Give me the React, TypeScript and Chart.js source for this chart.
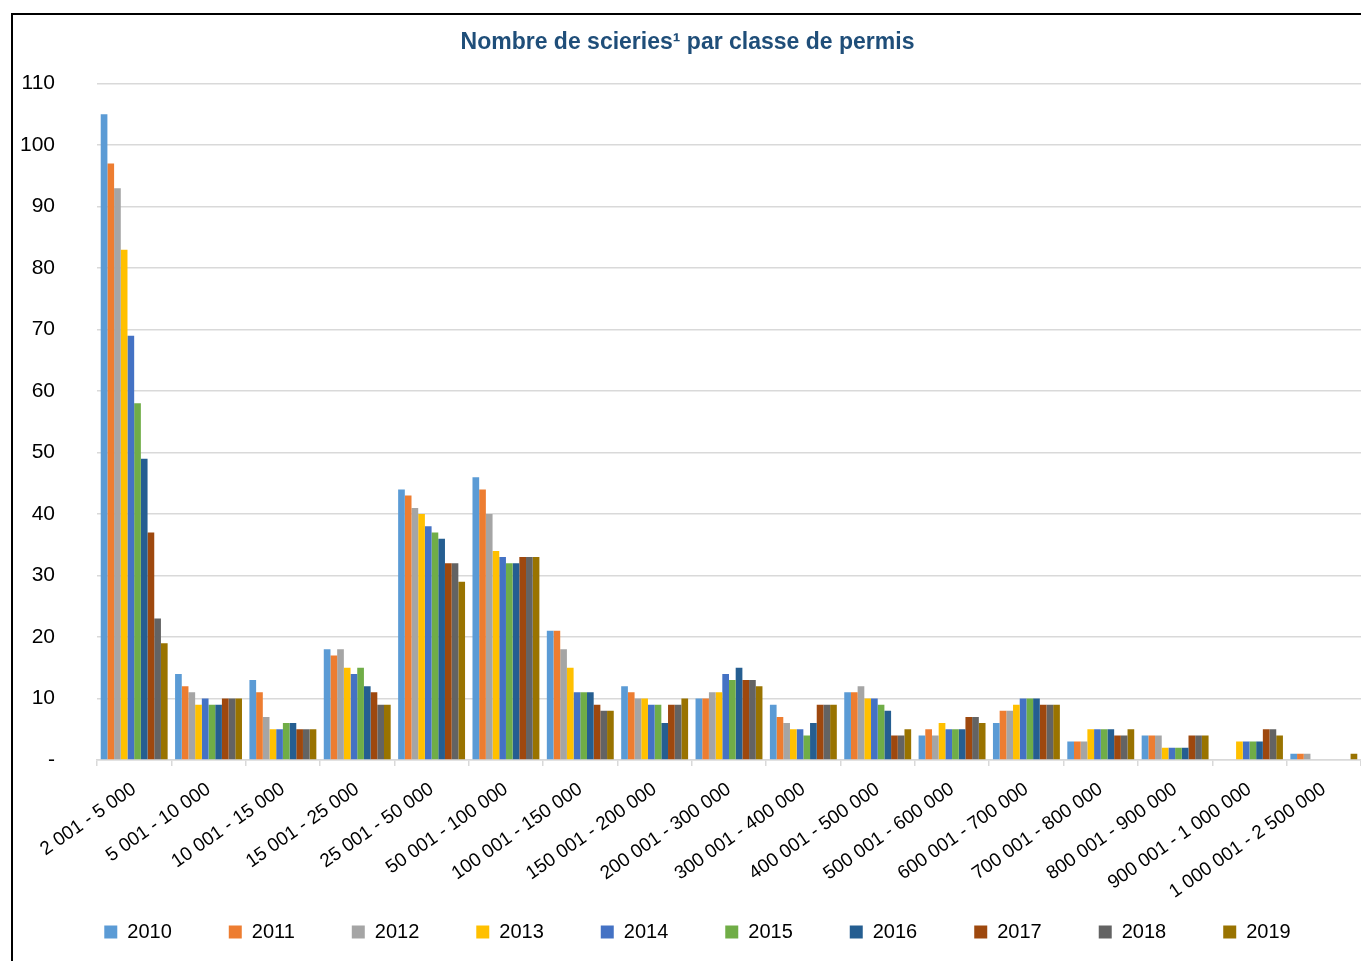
import React, { useEffect, useRef } from "react";
import { Chart, registerables } from "chart.js";

Chart.register(...registerables);

const categories = [
  "2 001 - 5 000",
  "5 001 - 10 000",
  "10 001 - 15 000",
  "15 001 - 25 000",
  "25 001 - 50 000",
  "50 001 - 100 000",
  "100 001 - 150 000",
  "150 001 - 200 000",
  "200 001 - 300 000",
  "300 001 - 400 000",
  "400 001 - 500 000",
  "500 001 - 600 000",
  "600 001 - 700 000",
  "700 001 - 800 000",
  "800 001 - 900 000",
  "900 001 - 1 000 000",
  "1 000 001 - 2 500 000",
];

const years = ["2010", "2011", "2012", "2013", "2014", "2015", "2016", "2017", "2018", "2019"];

// values per category, one entry per year 2010..2019
const v2010 = [105, 14, 13, 18, 44, 46, 21, 12, 10, 9, 11, 4, 6, 3, 4, null, 1];
const v2011 = [97, 12, 11, 17, 43, 44, 21, 11, 10, 7, 11, 5, 8, 3, 4, null, 1];
const v2012 = [93, 11, 7, 18, 41, 40, 18, 10, 11, 6, 12, 4, 8, 3, 4, null, 1];
const v2013 = [83, 9, 5, 15, 40, 34, 15, 10, 11, 5, 10, 6, 9, 5, 2, 3, null];
const v2014 = [69, 10, 5, 14, 38, 33, 11, 9, 14, 5, 10, 5, 10, 5, 2, 3, null];
const v2015 = [58, 9, 6, 15, 37, 32, 11, 9, 13, 4, 9, 5, 10, 5, 2, 3, null];
const v2016 = [49, 9, 6, 12, 36, 32, 11, 6, 15, 6, 8, 5, 10, 5, 2, 3, null];
const v2017 = [37, 10, 5, 11, 32, 33, 9, 9, 13, 9, 4, 7, 9, 4, 4, 5, null];
const v2018 = [23, 10, 5, 9, 32, 33, 8, 9, 13, 9, 4, 7, 9, 4, 4, 5, null];
const v2019 = [19, 10, 5, 9, 29, 33, 8, 10, 12, 9, 5, 6, 9, 5, 4, 4, 1];

const seriesValues = [v2010, v2011, v2012, v2013, v2014, v2015, v2016, v2017, v2018, v2019];

const colors = [
  "#5B9BD5",
  "#ED7D31",
  "#A5A5A5",
  "#FFC000",
  "#4472C4",
  "#70AD47",
  "#255E91",
  "#9E480E",
  "#636363",
  "#997300",
];

const yTicks = [0, 10, 20, 30, 40, 50, 60, 70, 80, 90, 100, 110];

const FONT = "'Liberation Sans Narrow', 'Arial Narrow', 'Liberation Sans', Arial, sans-serif";

// moves the legend up so it sits close under the rotated category labels
const legendShift = {
  id: "legendShift",
  afterLayout(chart: any) {
    const l = chart.legend;
    if (!l) return;
    l.top -= 46;
    l.bottom = chart.height;
    l.left += 10;
    l.right += 10;
  },
};

export default function App() {
  const ref = useRef<HTMLCanvasElement | null>(null);

  useEffect(() => {
    if (!ref.current) return;
    const chart = new Chart(ref.current, {
      type: "bar",
      data: {
        labels: categories,
        datasets: years.map((y, i) => ({
          label: y,
          data: seriesValues[i],
          backgroundColor: colors[i],
          borderWidth: 0,
          barPercentage: 1,
          categoryPercentage: 0.9,
        })),
      },
      plugins: [legendShift],
      options: {
        responsive: false,
        animation: false,
        layout: { padding: { left: 0, right: 0, top: 0, bottom: 0 } },
        plugins: {
          title: {
            display: true,
            text: "Nombre de scieries¹ par classe de permis",
            color: "#1F4E79",
            font: { family: FONT, size: 23, weight: "bold" },
            padding: { top: 14, bottom: 27 },
          },
          legend: {
            position: "bottom",
            maxHeight: 50,
            labels: {
              boxWidth: 13,
              boxHeight: 13,
              padding: 57,
              color: "#000",
              font: { family: FONT, size: 20 },
            },
          },
          tooltip: { enabled: false },
        },
        scales: {
          x: {
            afterFit: (s: any) => {
              s.height = 151;
            },
            grid: {
              display: true,
              drawOnChartArea: false,
              drawTicks: true,
              tickLength: 6,
              color: "#d9d9d9",
              lineWidth: 1.5,
            },
            border: { display: true, color: "#d9d9d9", width: 1.5 },
            ticks: {
              color: "#000",
              font: { family: FONT, size: 19 },
              minRotation: 35,
              maxRotation: 35,
              autoSkip: false,
              padding: 12,
            },
          },
          y: {
            min: 0,
            max: 110,
            afterBuildTicks: (s: any) => {
              s.ticks = yTicks.map((v) => ({ value: v }));
            },
            afterFit: (s: any) => {
              s.width = 83;
            },
            grid: { color: "#d9d9d9", lineWidth: 1.5, drawTicks: false },
            border: { display: false },
            ticks: {
              color: "#000",
              padding: 42,
              font: { family: FONT, size: 21 },
              callback: (v: any) => (Number(v) === 0 ? "-" : String(v)),
            },
          },
        },
      },
    });
    return () => chart.destroy();
  }, []);

  return (
    <div style={{ position: "fixed", left: 0, top: 0, width: 1361, height: 961, background: "#fff", overflow: "hidden" }}>
      <div
        style={{
          position: "absolute",
          left: 11,
          top: 13,
          right: 0,
          bottom: 0,
          borderTop: "2px solid #000",
          borderLeft: "2px solid #000",
        }}
      />
      <canvas
        ref={ref}
        width={1347}
        height={946}
        style={{ position: "absolute", left: 14, top: 15, display: "block" }}
      />
    </div>
  );
}
